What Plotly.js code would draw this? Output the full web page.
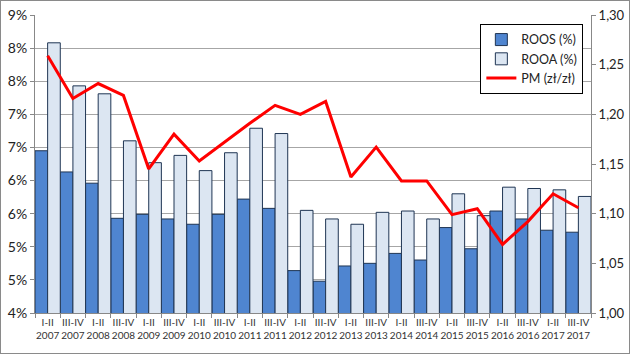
<!DOCTYPE html>
<html>
<head>
<meta charset="utf-8">
<script src="https://cdn.plot.ly/plotly-3.0.1.min.js"></script>
<style>
html,body{margin:0;padding:0;background:#fff;}
#wrap{position:relative;width:630px;height:355px;}
#chart{width:630px;height:355px;}
#frame{position:absolute;left:0;top:0;width:628px;height:352px;border:1px solid #8a8a8a;pointer-events:none;}
</style>
</head>
<body>
<div id="wrap"><div id="chart"></div><div id="frame"></div></div>
<script>
var categories = ["I-II<br>2007","III-IV<br>2007","I-II<br>2008","III-IV<br>2008","I-II<br>2009","III-IV<br>2009",
  "I-II<br>2010","III-IV<br>2010","I-II<br>2011","III-IV<br>2011","I-II<br>2012","III-IV<br>2012",
  "I-II<br>2013","III-IV<br>2013","I-II<br>2014","III-IV<br>2014","I-II<br>2015","III-IV<br>2015",
  "I-II<br>2016","III-IV<br>2016","I-II<br>2017","III-IV<br>2017"];
var roos = [6.45,6.13,5.96,5.43,5.49,5.42,5.34,5.49,5.72,5.58,4.64,4.48,4.71,4.75,4.90,4.80,5.29,4.97,5.54,5.42,5.25,5.22];
var rooa = [8.08,7.43,7.31,6.60,6.27,6.38,6.15,6.42,6.79,6.71,5.55,5.42,5.34,5.52,5.54,5.42,5.80,5.47,5.90,5.88,5.86,5.76];
var pm = [1.259,1.216,1.231,1.219,1.145,1.180,1.153,1.172,1.191,1.209,1.200,1.213,1.137,1.167,1.133,1.133,1.099,1.105,1.069,1.092,1.120,1.106];
var leftTickVals = [4,4.5,5,5.5,6,6.5,7,7.5,8,8.5];
var leftTickText = ["4%","5%","5%","6%","6%","7%","7%","8%","8%","9%"];
var rightTickVals = [1.00,1.05,1.10,1.15,1.20,1.25,1.30];

var font = "Lato, 'Open Sans', sans-serif";
var data = [
  {type:"bar", name:"ROOS (%)", x:categories, y:roos,
   marker:{color:"#4f85d0", line:{color:"#1f3553", width:1}}},
  {type:"bar", name:"ROOA (%)", x:categories, y:rooa,
   marker:{color:"#dce6f2", line:{color:"#1f3553", width:1}}},
  {type:"scatter", mode:"lines", name:"PM (zł/zł)", x:categories, y:pm, yaxis:"y2",
   line:{color:"#ff0000", width:3}}
];
var layout = {
  width:630, height:355,
  margin:{l:35, r:39, t:15, b:42},
  paper_bgcolor:"#fff", plot_bgcolor:"#fff",
  separators:", ",
  barmode:"group", bargap:0, bargroupgap:0,
  showlegend:true,
  font:{family:font, size:13, color:"#222"},
  legend:{x:0.801, y:0.97, xanchor:"left", yanchor:"top", bgcolor:"#fff",
          bordercolor:"#000", borderwidth:1, font:{family:font, size:12.5, color:"#222"},
          tracegroupgap:0, itemwidth:30},
  xaxis:{type:"category", tickson:"boundaries", ticks:"outside", ticklen:4, tickcolor:"#888",
         showline:true, linecolor:"#888", linewidth:1, showgrid:false,
         tickfont:{family:font, size:10, color:"#333"}, tickangle:0, range:[-0.5,21.5]},
  yaxis:{range:[4,8.5], tickvals:leftTickVals, ticktext:leftTickText, ticks:"outside", ticklen:4,
         tickcolor:"#888", showline:true, linecolor:"#888", gridcolor:"#a6a6a6", gridwidth:1,
         zeroline:false, tickfont:{family:font, size:14, color:"#222"}},
  yaxis2:{overlaying:"y", side:"right", range:[1.0,1.3], tickvals:rightTickVals, tickformat:".2f",
          ticks:"outside", ticklen:4, tickcolor:"#888", showline:true, linecolor:"#888",
          showgrid:false, zeroline:false, tickfont:{family:font, size:13, color:"#222"}}
};
Plotly.newPlot("chart", data, layout, {displayModeBar:false, staticPlot:true});
</script>
</body>
</html>
